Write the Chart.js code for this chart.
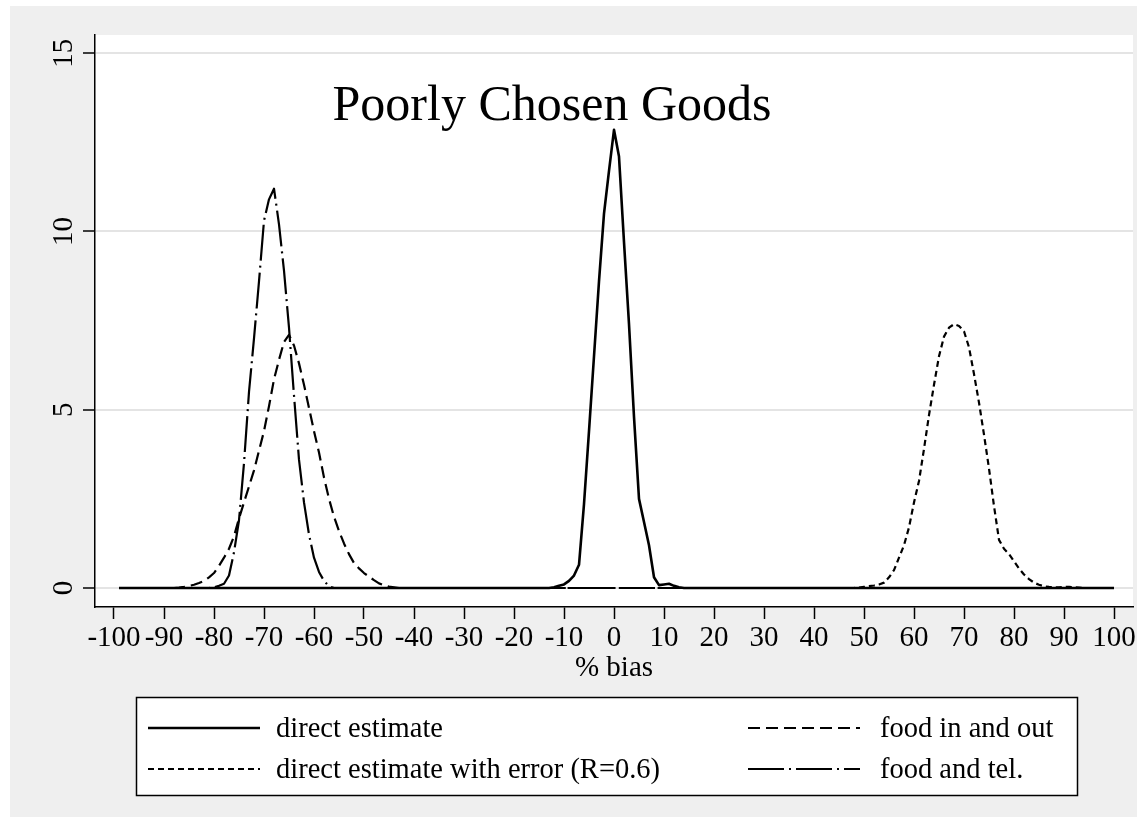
<!DOCTYPE html>
<html>
<head>
<meta charset="utf-8">
<script src="https://cdn.jsdelivr.net/npm/chart.js@4.4.1/dist/chart.umd.min.js"></script>
<style>
  html, body { margin: 0; padding: 0; background: #ffffff; }
  #wrap { width: 1146px; height: 823px; position: relative; }
</style>
</head>
<body>
<div id="wrap"><canvas id="c" width="1146" height="823"></canvas></div>
<script>
// Axis ticks
const xTickValues = [-100, -90, -80, -70, -60, -50, -40, -30, -20, -10, 0, 10, 20, 30, 40, 50, 60, 70, 80, 90, 100];
const yTickValues = [0, 5, 10, 15];

// Kernel density estimates of % bias, one pair of arrays per series
const directBias = [-99, -13, -12, -11, -10, -9, -8, -7, -6, -5, -4, -3, -2, -1, 0, 1, 2, 3, 4, 5, 6, 7, 8, 9, 10, 11, 12, 13, 14, 100];
const directDensity = [0, 0, 0.02, 0.06, 0.1, 0.2, 0.35, 0.65, 2.35, 4.4, 6.5, 8.6, 10.5, 11.7, 12.85, 12.1, 9.7, 7.4, 4.8, 2.5, 1.85, 1.2, 0.3, 0.08, 0.1, 0.12, 0.06, 0.02, 0, 0];

const errorBias = [-99, 48, 49, 50, 51, 52, 53, 54, 55, 56, 57, 58, 59, 60, 61, 62, 63, 64, 65, 66, 67, 68, 69, 70, 71, 72, 73, 74, 75, 76, 77, 78, 79, 80, 81, 82, 83, 84, 85, 86, 87, 88, 89, 90, 91, 92, 93, 94, 100];
const errorDensity = [0, 0, 0.01, 0.03, 0.05, 0.07, 0.1, 0.15, 0.3, 0.5, 0.85, 1.2, 1.7, 2.4, 3.0, 3.9, 4.85, 5.7, 6.5, 7.05, 7.3, 7.4, 7.35, 7.2, 6.75, 6.0, 5.2, 4.3, 3.35, 2.3, 1.35, 1.1, 0.95, 0.75, 0.55, 0.38, 0.25, 0.15, 0.09, 0.05, 0.03, 0.02, 0.02, 0.03, 0.03, 0.02, 0.01, 0, 0];

const foodInOutBias = [-99, -88, -87, -86, -85, -84, -83, -82, -81, -80, -79, -78, -77, -76, -75, -74, -73, -72, -71, -70, -69, -68, -67, -66, -65, -64, -63, -62, -61, -60, -59, -58, -57, -56, -55, -54, -53, -52, -51, -50, -49, -48, -47, -46, -45, -44, -43, 100];
const foodInOutDensity = [0, 0, 0.01, 0.03, 0.06, 0.09, 0.14, 0.2, 0.3, 0.42, 0.62, 0.85, 1.1, 1.45, 1.95, 2.4, 2.85, 3.3, 3.85, 4.4, 5.1, 5.85, 6.4, 6.9, 7.1, 6.8, 6.3, 5.7, 5.05, 4.4, 3.8, 3.1, 2.5, 2.0, 1.6, 1.25, 0.95, 0.7, 0.55, 0.42, 0.32, 0.22, 0.13, 0.08, 0.04, 0.02, 0, 0];

const foodTelBias = [-99, -81, -80, -79, -78, -77, -76, -75, -74, -73, -72, -71, -70, -69, -68, -67, -66, -65, -64, -63, -62, -61, -60, -59, -58, -57, -56, 100];
const foodTelDensity = [0, 0, 0.02, 0.06, 0.12, 0.35, 1.0, 1.9, 3.5, 5.5, 7.0, 8.6, 10.3, 10.9, 11.2, 10.2, 8.9, 7.3, 5.4, 3.6, 2.4, 1.5, 0.85, 0.45, 0.2, 0.05, 0, 0];

const seriesLabels = ['direct estimate', 'direct estimate with error (R=0.6)', 'food in and out', 'food and tel.'];
const titleText = 'Poorly Chosen Goods';
const xTitle = '% bias';

const SERIF = '"Liberation Serif", "Times New Roman", serif';

function points(xs, ys) {
  return xs.map((x, i) => ({ x: x, y: ys[i] }));
}

const lineStyles = [
  { dash: [], width: 2.6 },
  { dash: [6, 4], width: 2.2 },
  { dash: [12, 6], width: 2.2 },
  { dash: [36, 5, 2, 5], width: 2.2 }
];

// Frame, in-plot title, rotated y labels and the boxed two-column key
const decorations = {
  id: 'decorations',
  beforeDraw(chart) {
    const { ctx, chartArea: a } = chart;
    ctx.save();
    ctx.fillStyle = '#ffffff';
    ctx.fillRect(0, 0, chart.width, chart.height);
    ctx.fillStyle = '#efefef';
    ctx.fillRect(10, 6, 1127, 811);
    ctx.fillStyle = '#ffffff';
    ctx.fillRect(a.left, a.top, a.right - a.left, a.bottom - a.top);
    ctx.restore();
  },
  afterDraw(chart) {
    const { ctx } = chart;
    const ys = chart.scales.y;
    ctx.save();
    ctx.fillStyle = '#000';

    // title inside the plot region
    ctx.font = '50px ' + SERIF;
    ctx.textAlign = 'center';
    ctx.textBaseline = 'alphabetic';
    ctx.fillText(titleText, 552, 120);

    // vertical axis labels, rotated
    ctx.font = '29px ' + SERIF;
    yTickValues.forEach(v => {
      const py = ys.getPixelForValue(v);
      ctx.save();
      ctx.translate(72, py);
      ctx.rotate(-Math.PI / 2);
      ctx.textAlign = 'center';
      ctx.textBaseline = 'alphabetic';
      ctx.fillText(String(v), 0, 0);
      ctx.restore();
    });

    // key
    const bx = 136.5, by = 697.5, bw = 941, bh = 98;
    ctx.fillStyle = '#ffffff';
    ctx.fillRect(bx, by, bw, bh);
    ctx.strokeStyle = '#000';
    ctx.lineWidth = 1.5;
    ctx.setLineDash([]);
    ctx.strokeRect(bx, by, bw, bh);

    const slots = [
      { sx: 148, tx: 276, ly: 728, ty: 737 },
      { sx: 148, tx: 276, ly: 769, ty: 778 },
      { sx: 748, tx: 880, ly: 728, ty: 737 },
      { sx: 748, tx: 880, ly: 769, ty: 778 }
    ];
    ctx.font = '28.5px ' + SERIF;
    ctx.textAlign = 'left';
    chart.data.datasets.forEach((ds, i) => {
      const s = slots[i];
      ctx.beginPath();
      ctx.strokeStyle = '#000';
      ctx.lineWidth = ds.borderWidth;
      ctx.setLineDash(ds.borderDash || []);
      ctx.moveTo(s.sx, s.ly);
      ctx.lineTo(s.sx + 112, s.ly);
      ctx.stroke();
      ctx.setLineDash([]);
      ctx.fillStyle = '#000';
      ctx.fillText(ds.label, s.tx, s.ty);
    });
    ctx.restore();
  }
};

const datasets = [
  { label: seriesLabels[0], data: points(directBias, directDensity) },
  { label: seriesLabels[1], data: points(errorBias, errorDensity) },
  { label: seriesLabels[2], data: points(foodInOutBias, foodInOutDensity) },
  { label: seriesLabels[3], data: points(foodTelBias, foodTelDensity) }
].map((d, i) => Object.assign(d, {
  borderColor: '#000000',
  backgroundColor: '#000000',
  borderWidth: lineStyles[i].width,
  borderDash: lineStyles[i].dash,
  pointRadius: 0,
  tension: 0,
  fill: false
}));

new Chart(document.getElementById('c'), {
  type: 'line',
  data: { datasets: datasets },
  options: {
    responsive: false,
    animation: false,
    devicePixelRatio: 1,
    layout: { padding: { left: 0, top: 35, right: 13, bottom: 137 } },
    elements: { line: { borderCapStyle: 'butt', borderJoinStyle: 'round' } },
    plugins: { legend: { display: false }, tooltip: { enabled: false }, title: { display: false } },
    scales: {
      x: {
        type: 'linear',
        min: -103.8,
        max: 103.8,
        afterBuildTicks: s => { s.ticks = xTickValues.map(v => ({ value: v })); },
        afterFit: s => { s.height = 79; },
        grid: { drawOnChartArea: false, drawTicks: true, tickLength: 12, tickColor: '#000', tickWidth: 1.5 },
        border: { display: true, color: '#000', width: 1.5 },
        ticks: {
          color: '#000',
          font: { family: SERIF, size: 29 },
          padding: 2,
          maxRotation: 0,
          minRotation: 0,
          autoSkip: false,
          callback: v => String(v)
        },
        title: { display: true, text: xTitle, color: '#000', font: { family: SERIF, size: 29 }, padding: 0 }
      },
      y: {
        type: 'linear',
        min: -0.533,
        max: 15.51,
        afterBuildTicks: s => { s.ticks = yTickValues.map(v => ({ value: v })); },
        afterFit: s => { s.width = 95; },
        grid: { color: '#e4e4e4', lineWidth: 2, drawTicks: true, tickLength: 12, tickColor: '#000', tickWidth: 1.5 },
        border: { display: true, color: '#000', width: 1.5 },
        ticks: { display: false }
      }
    }
  },
  plugins: [decorations]
});
</script>
</body>
</html>
